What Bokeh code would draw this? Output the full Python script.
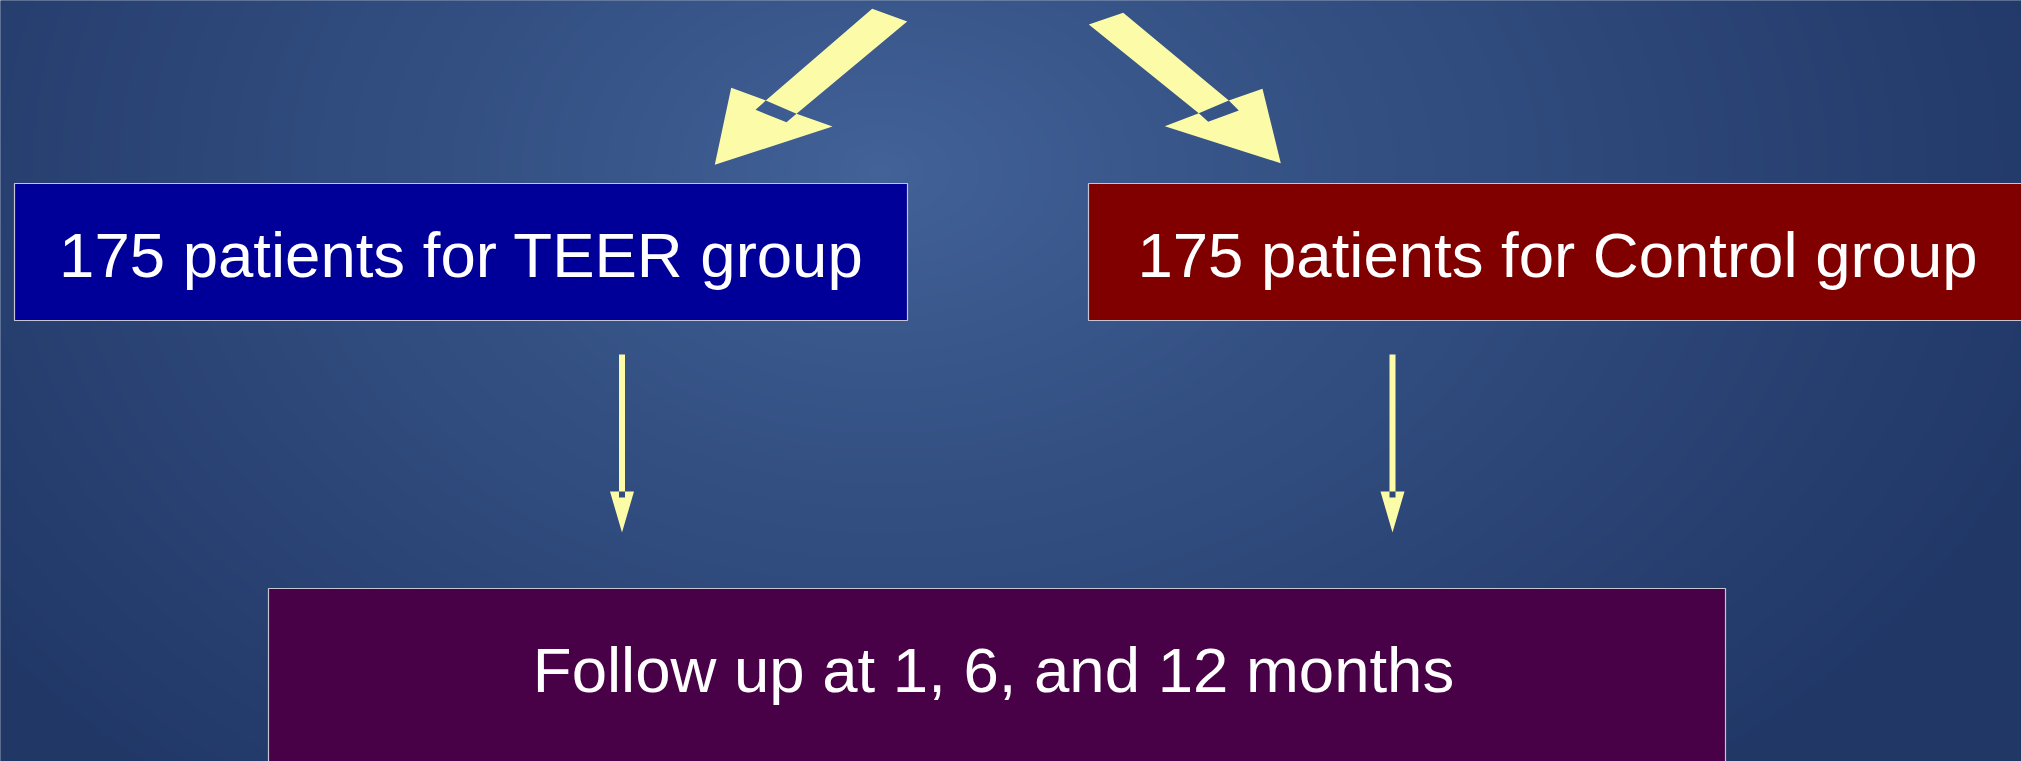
import numpy as np
from bokeh.plotting import figure
from bokeh.models import Range1d
from bokeh.core.properties import value
from bokeh.embed import file_html
from bokeh.resources import INLINE

# ---- content ----
box_labels = ["175 patients for TEER group",
              "175 patients for Control group",
              "Follow up at 1, 6, and 12 months"]
box_fill = ["#000099", "#800000", "#480046"]

# ---- layout (page pixel coordinates, y down) ----
box_left = [14, 1088, 268]
box_right = [907, 2040, 1725]
box_top = [183, 183, 588]
box_bottom = [320, 320, 780]
text_x = [461, 1557, 993]
text_y = [254, 254, 669]

diag_outer = [
    [(871.7, 8.3), (765.3, 100), (730.7, 87.3), (714.3, 164.3), (832, 126), (796, 113.3), (906.7, 21)],
    [(1088.3, 24), (1198.3, 112.7), (1164.3, 125.7), (1280.3, 162.7), (1262, 88.3), (1228.3, 100), (1122.7, 12.3)],
]
diag_hole = [
    [(765.3, 100), (755, 109.3), (786, 121.7), (796, 113.3)],
    [(1198.3, 112.7), (1207.7, 121.3), (1238.3, 110), (1228.3, 100)],
]
vert_cx = [621.5, 1392]
vert_top, vert_base, vert_notch, vert_tip = 354, 491, 497, 532
shaft_half, head_half = 3, 12

W, H = 2021, 761
p = figure(width=W, height=H, x_range=Range1d(0, W), y_range=Range1d(H, 0),
           output_backend="svg", toolbar_location=None, min_border=0,
           x_axis_location=None, y_axis_location=None)
p.grid.visible = False
p.outline_line_color = None
p.background_fill_color = "#2a4478"
p.border_fill_color = "#2a4478"

# background gradient
pad = 4
gw, gh = (W + 2 * pad) // 2, (H + 2 * pad) // 2
gx = np.linspace(-pad, W + pad, gw)
gy = np.linspace(-pad, H + pad, gh)
X, Y = np.meshgrid(gx, gy)
rx = np.where(X < 880, 1120.0, 1250.0)
t = np.sqrt(((X - 880) / rx) ** 2 + ((Y - 170) / 820.0) ** 2)
t = np.clip(t, 0, 1) ** 0.85
c0 = np.array([67, 99, 153])
c1 = np.array([33, 56, 103])
img = np.zeros((gh, gw), dtype=np.uint32)
view = img.view(dtype=np.uint8).reshape((gh, gw, 4))
for k in range(3):
    view[:, :, k] = (c0[k] + (c1[k] - c0[k]) * t).astype(np.uint8)
view[:, :, 3] = 255
p.image_rgba(image=[img], x=-pad, y=-pad, dw=W + 2 * pad, dh=H + 2 * pad)

# boxes
p.quad(left=box_left, right=box_right, top=box_top, bottom=box_bottom,
       fill_color=box_fill, line_color="#c4c4d4", line_width=1.2)
p.text(x=text_x, y=text_y, text=box_labels, text_color="white",
       text_font=value("Liberation Sans"), text_font_size="63.5px",
       text_align="center", text_baseline="alphabetic")


def area(pts):
    a = 0
    for i in range(len(pts)):
        x1, y1 = pts[i]
        x2, y2 = pts[(i + 1) % len(pts)]
        a += x1 * y2 - x2 * y1
    return a


outers = list(diag_outer)
holes = list(diag_hole)
for cx in vert_cx:
    outers.append([(cx - shaft_half, vert_top), (cx - shaft_half, vert_base), (cx - head_half, vert_base),
                   (cx, vert_tip), (cx + head_half, vert_base), (cx + shaft_half, vert_base),
                   (cx + shaft_half, vert_top)])
    holes.append([(cx - shaft_half, vert_base), (cx - shaft_half, vert_notch),
                  (cx + shaft_half, vert_notch), (cx + shaft_half, vert_base)])

xs, ys = [], []
for o, h in zip(outers, holes):
    if np.sign(area(o)) == np.sign(area(h)):
        h = h[::-1]
    xs.append([[[q[0] for q in o], [q[0] for q in h]]])
    ys.append([[[q[1] for q in o], [q[1] for q in h]]])
p.multi_polygons(xs=xs, ys=ys, fill_color="#FCFCA8", line_color=None)

open("out.html", "w").write(file_html(p, INLINE))
